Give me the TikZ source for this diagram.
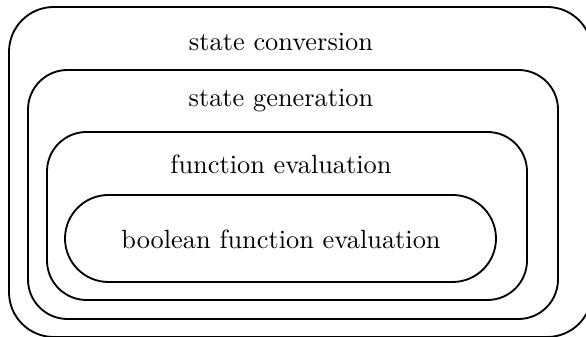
\documentclass[tikz,border=0pt]{standalone}
\begin{document}
\begin{tikzpicture}[x=0.3796pt, y=-0.3796pt,
	box/.style={line width=0.7pt, rounded corners=15pt},
	lbl/.style={inner sep=0pt}]
	\useasboundingbox (0,0) rectangle (586,337);

	\draw[box, rounded corners=17pt] (9,7) rectangle (592,337);
	\draw[box] (28,70) rectangle (558,319);
	\draw[box] (47,132) rectangle (527,300);
	\draw[box, rounded corners=16.5pt] (65,195) rectangle (496,282);

	\node[lbl] (conv) at (281,42) {state conversion};
	\node[lbl] (gen) at (281,101) {state generation};
	\node[lbl] (feval) at (281,164) {function evaluation};
	\node[lbl] (beval) at (281,239) {boolean function evaluation};
\end{tikzpicture}
\end{document}
